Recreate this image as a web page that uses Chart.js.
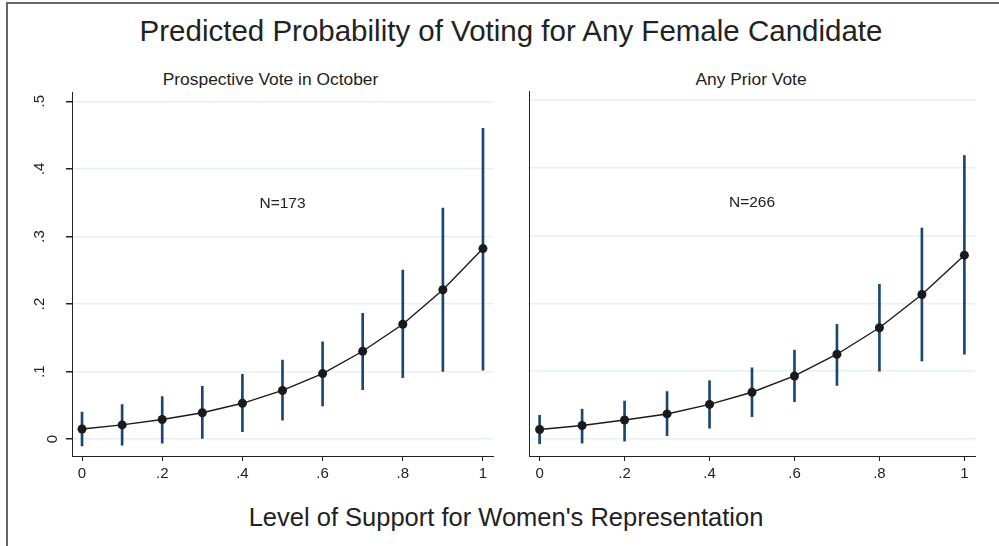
<!DOCTYPE html>
<html>
<head>
<meta charset="utf-8">
<script src="https://cdn.jsdelivr.net/npm/chart.js@4.4.1/dist/chart.umd.min.js"></script>
<style>
  body { margin: 0; background: #fff; }
  #frame { position: relative; width: 999px; height: 546px; overflow: hidden; background: #fff;
           font-family: "Liberation Sans", Arial, sans-serif; color: #222; }
  #frame .edge-top { position: absolute; left: 6px; top: 2px; right: 0; height: 2px; background: #666; }
  #frame .edge-left { position: absolute; left: 6px; top: 2px; bottom: 0; width: 2px; background: #666; }
  .ttl { position: absolute; white-space: nowrap; transform: translateX(-50%); }
  #mainTitle { left: 511px; top: 14px; font-size: 29.5px; }
  .sub { top: 69px; font-size: 17.4px; }
  #subLeft { left: 270.5px; }
  #subRight { left: 751px; }
  #xTitle { left: 506px; top: 503px; font-size: 25.5px; }
  canvas { position: absolute; }
  #left { left: 30px; top: 60px; }
  #right { left: 520px; top: 60px; }
</style>
</head>
<body>
<div id="frame">
  <div class="edge-top"></div>
  <div class="edge-left"></div>
  <div id="mainTitle" class="ttl">Predicted Probability of Voting for Any Female Candidate</div>
  <div id="subLeft" class="ttl sub">Prospective Vote in October</div>
  <div id="subRight" class="ttl sub">Any Prior Vote</div>
  <canvas id="left" width="473" height="426"></canvas>
  <canvas id="right" width="479" height="426"></canvas>
  <div id="xTitle" class="ttl">Level of Support for Women's Representation</div>
</div>
<script>
const support = [0, 0.1, 0.2, 0.3, 0.4, 0.5, 0.6, 0.7, 0.8, 0.9, 1];
const xTicks = [0, 0.2, 0.4, 0.6, 0.8, 1];
const yTicks = [0, 0.1, 0.2, 0.3, 0.4, 0.5];

// Prospective Vote in October
const octProb  = [0.015, 0.021, 0.029, 0.039, 0.053, 0.072, 0.097, 0.130, 0.170, 0.221, 0.282];
const octLow   = [-0.010, -0.009, -0.006, 0.000, 0.011, 0.028, 0.049, 0.073, 0.091, 0.100, 0.102];
const octHigh  = [0.040, 0.051, 0.063, 0.078, 0.096, 0.117, 0.144, 0.186, 0.250, 0.342, 0.460];

// Any Prior Vote
const priorProb = [0.014, 0.020, 0.028, 0.037, 0.051, 0.069, 0.093, 0.125, 0.164, 0.213, 0.271];
const priorLow  = [-0.007, -0.006, -0.003, 0.005, 0.016, 0.033, 0.055, 0.079, 0.100, 0.115, 0.125];
const priorHigh = [0.035, 0.044, 0.056, 0.070, 0.086, 0.105, 0.131, 0.169, 0.228, 0.311, 0.418];

const FONT = "'Liberation Sans', Arial, sans-serif";
const INK = '#222';

const stripZero = v => {
  const s = String(Math.round(v * 10) / 10);
  return s.replace(/^0\./, '.');
};

const noteLabel = {
  id: 'noteLabel',
  afterDatasetsDraw(chart, args, opts) {
    const { ctx, scales } = chart;
    ctx.save();
    ctx.font = '15.5px ' + FONT;
    ctx.fillStyle = INK;
    ctx.textAlign = 'center';
    ctx.textBaseline = 'middle';
    ctx.fillText(opts.text, scales.x.getPixelForValue(opts.x), scales.y.getPixelForValue(opts.y));
    ctx.restore();
  }
};

function makePanel(id, prob, low, high, note, yWidth, pad) {
  const showY = yWidth > 0;
  return new Chart(document.getElementById(id), {
    data: {
      datasets: [
        {
          type: 'line',
          data: support.map((x, i) => ({ x: x, y: prob[i] })),
          borderColor: '#1a1a1a',
          borderWidth: 1.4,
          pointRadius: 4.5,
          pointBackgroundColor: '#1a1a1a',
          pointBorderWidth: 0,
          tension: 0,
          order: 0
        },
        {
          type: 'bar',
          data: support.map((x, i) => ({ x: x, y: [low[i], high[i]] })),
          backgroundColor: '#1a476f',
          barThickness: 2,
          order: 1
        }
      ]
    },
    options: {
      responsive: false,
      animation: false,
      layout: { padding: pad },
      plugins: {
        legend: { display: false },
        tooltip: { enabled: false },
        title: { display: false },
        noteLabel: note
      },
      scales: {
        x: {
          type: 'linear',
          offset: false,
          min: -0.025,
          max: 1.025,
          afterBuildTicks: axis => { axis.ticks = xTicks.map(v => ({ value: v })); },
          afterFit: axis => { axis.height = 30; },
          border: { display: true, color: INK, width: 1 },
          grid: { offset: false, drawOnChartArea: false, tickColor: INK, tickLength: 5 },
          ticks: {
            color: INK,
            font: { family: FONT, size: 15 },
            padding: 4,
            maxRotation: 0,
            callback: v => stripZero(v)
          }
        },
        y: {
          type: 'linear',
          min: -0.025,
          max: 0.513,
          afterBuildTicks: axis => { axis.ticks = yTicks.map(v => ({ value: v })); },
          afterFit: axis => { axis.width = yWidth; },
          border: { display: true, color: INK, width: 1 },
          grid: {
            color: '#e6eff3',
            lineWidth: 1.5,
            drawTicks: showY,
            tickColor: INK,
            tickLength: 6
          },
          ticks: {
            display: showY,
            color: INK,
            font: { family: FONT, size: 15, lineHeight: 1.7 },
            padding: 7,
            crossAlign: 'center',
            minRotation: 90,
            maxRotation: 90,
            // the zero label sits closer to the axis than the others in the original
            callback: v => (v === 0 ? '0' : [stripZero(v), ''])
          }
        }
      }
    },
    plugins: [noteLabel]
  });
}

makePanel('left', octProb, octLow, octHigh,
  { text: 'N=173', x: 0.5, y: 0.348 }, 42, { left: 0, right: 10, top: 31, bottom: 0 });
makePanel('right', priorProb, priorLow, priorHigh,
  { text: 'N=266', x: 0.5, y: 0.348 }, 0, { left: 9, right: 24, top: 31, bottom: 0 });
</script>
</body>
</html>
